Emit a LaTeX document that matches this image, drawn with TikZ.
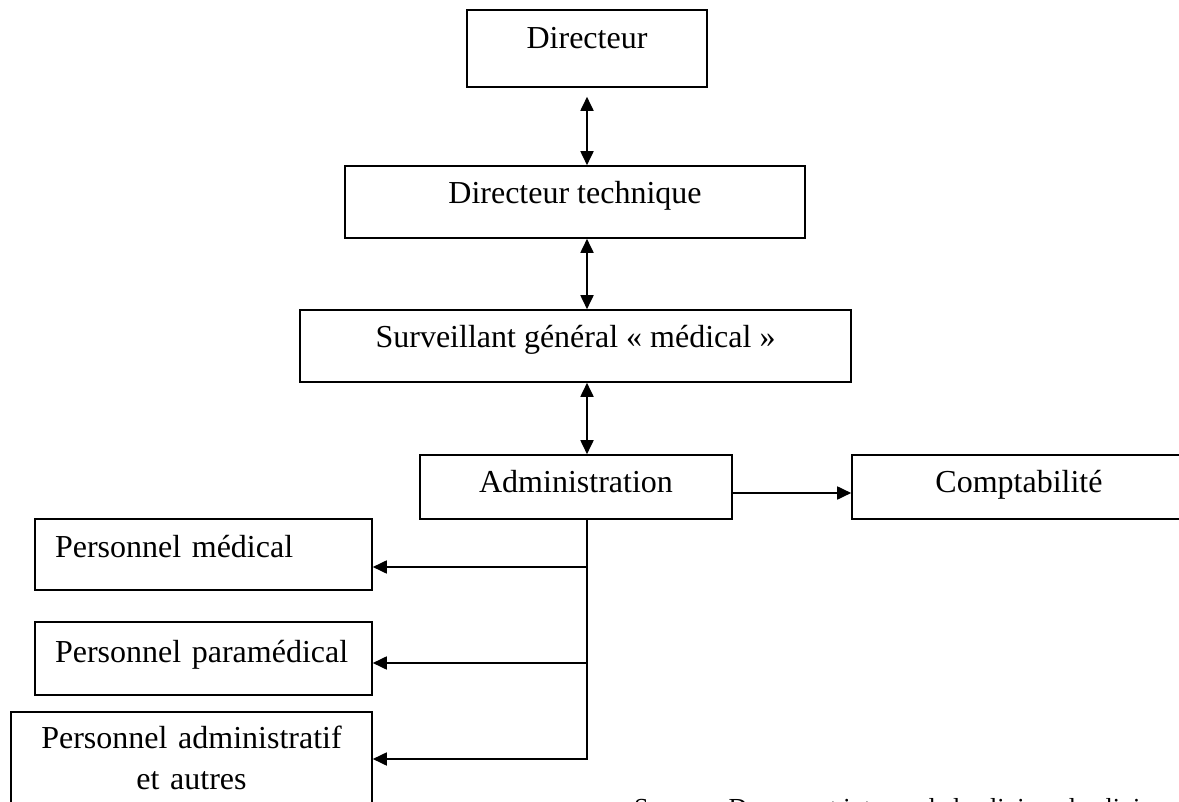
\documentclass[tikz,border=0pt]{standalone}
\usepackage{fontspec}
\setmainfont{Liberation Serif}
\usetikzlibrary{arrows.meta}
\begin{document}
\begin{tikzpicture}[x=0.5pt,y=-0.5pt,font=\fontsize{16}{20.5}\selectfont,box/.style={draw,line width=0.8pt,anchor=base,inner sep=0pt},link/.style={line width=0.9pt,-{Triangle[length=7pt,width=6.5pt]}},both/.style={line width=0.9pt,{Triangle[length=7pt,width=6.5pt]}-{Triangle[length=7pt,width=6.5pt]}}]
\useasboundingbox (0,0) rectangle (1179,802); \clip (0,0) rectangle (1179,802);
\node[box,minimum width=120pt,text height=19.5pt,text depth=19pt] (dir) at (587,49) {Directeur};
\node[box,minimum width=230pt,text height=19pt,text depth=17pt] (dirtech) at (575,204) {Directeur technique};
\node[box,minimum width=275.5pt,text height=19pt,text depth=17pt] (surv) at (575.5,348) {Surveillant général « médical »};
\node[box,minimum width=156pt,text height=19pt,text depth=13pt] (admin) at (576,493) {Administration};
\node[box,minimum width=167pt,text height=19pt,text depth=13pt] (compta) at (1019,493) {Comptabilité};
\node[box,text width=148.5pt,inner xsep=10pt,align=left,text height=19pt,text depth=16.5pt] (pmed) at (203.5,557) {Personnel médical};
\node[box,text width=148.5pt,inner xsep=10pt,align=left,text height=20pt,text depth=16.5pt] (ppara) at (203.5,662) {Personnel paramédical};
\node[box,text width=180.5pt,align=center,text height=18pt,text depth=41pt] (padm) at (191.5,748) {Personnel administratif\\et autres};
\coordinate (j1) at (587,567); \coordinate (j2) at (587,663); \coordinate (j3) at (587,759);
\draw[both,shorten <=4.5pt] (dir.south) -- (dir.south |- dirtech.north);
\draw[both] (dir.south |- dirtech.south) -- (dir.south |- surv.north);
\draw[both] (dir.south |- surv.south) -- (dir.south |- admin.north);
\draw[link] (admin.base east) -- (compta.base west);
\draw[link] (j3 |- admin.south) -- (j3) -- (j3 -| padm.east);
\foreach \j/\n in {j1/pmed,j2/ppara} {\draw[link] (\j) -- (\j -| \n.east);}
\node[anchor=base west,font=\fontsize{13}{16}\selectfont] (src) at (627,816) {Source : Document interne de la clinique la clinique};
\end{tikzpicture}
\end{document}
